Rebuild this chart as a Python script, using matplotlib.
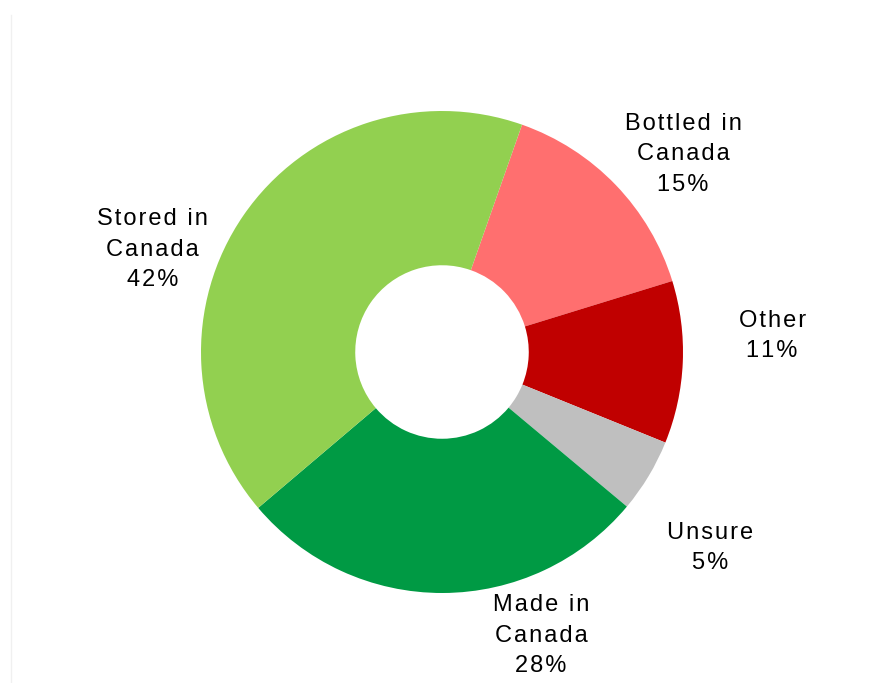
import matplotlib
matplotlib.use("Agg")
import matplotlib.pyplot as plt
from matplotlib.lines import Line2D

categories = ["Bottled in\nCanada", "Other", "Unsure", "Made in\nCanada", "Stored in\nCanada"]
shares = [15, 11, 5, 28, 42]
colors = ["#FF6F6F", "#C00000", "#BFBFBF", "#009A44", "#92D050"]

# label anchor points (in pie-radius units, centre at 0,0)
label_xy = [(1.00, 0.82), (1.37, 0.066), (1.112, -0.813), (0.411, -1.178), (-1.20, 0.425)]

plt.rcParams["font.family"] = ["Liberation Sans", "DejaVu Sans"]


def spaced(s):
    """Open up the tracking of each line with hair spaces."""
    return "\n".join("\u200a".join(line) for line in s.split("\n"))


W, H = 882, 683
cx, cy, R = 442, 352, 241
fig = plt.figure(figsize=(W / 100, H / 100), dpi=100)
ax = fig.add_axes([0, 0, 1, 1])

ax.pie(shares, colors=colors, startangle=70.6, counterclock=False, radius=1.0,
       wedgeprops=dict(width=0.64, linewidth=0))

for name, val, (x, y) in zip(categories, shares, label_xy):
    ax.text(x, y, spaced(f"{name}\n{val}%"), ha="center", va="center", fontsize=17,
            linespacing=1.5, color="#000000")

ax.set_xlim(-cx / R, (W - cx) / R)
ax.set_ylim(-(H - cy) / R, cy / R)
ax.set_aspect("auto")
ax.axis("off")

# thin frame edge on the left
fig.add_artist(Line2D([10.5 / W, 10.5 / W], [0, 1 - 15 / H], transform=fig.transFigure,
                      color="#F0F0F0", linewidth=1))

fig.savefig("out.png", dpi=100)
